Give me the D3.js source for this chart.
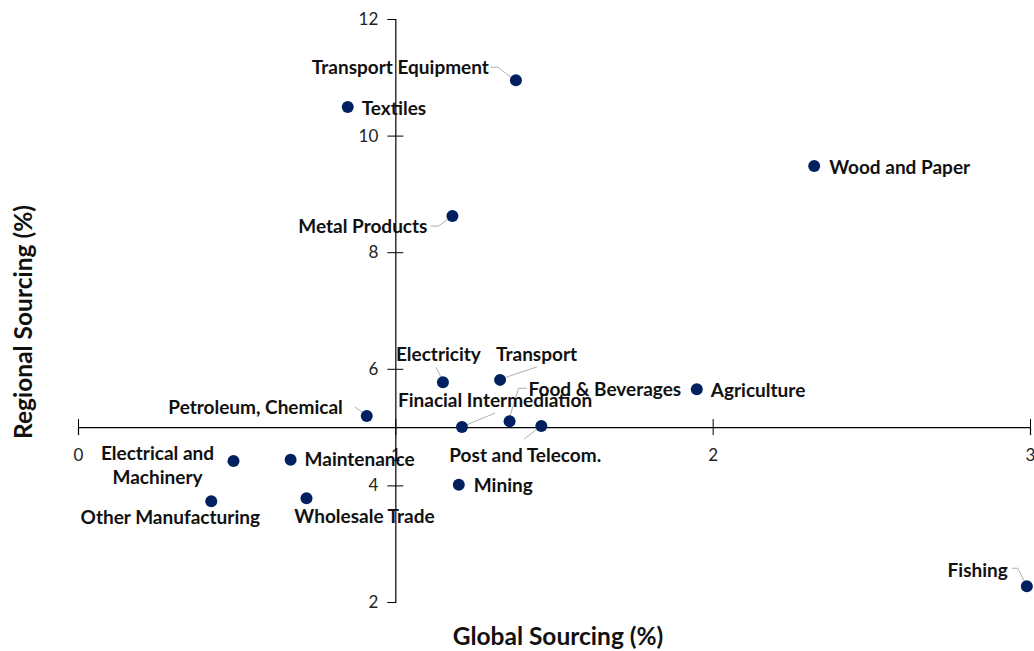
<!DOCTYPE html>
<html>
<head>
<meta charset="utf-8">
<script src="https://cdn.jsdelivr.net/npm/d3@7"></script>
<style>
  body { margin: 0; background: #fff; }
  svg { display: block; font-family: Lato, "Open Sans", sans-serif; }
</style>
</head>
<body>
<script>
var W = 1034, H = 651;

// data
var sectors = ["Transport Equipment", "Textiles", "Wood and Paper", "Metal Products",
  "Electricity", "Transport", "Agriculture", "Petroleum, Chemical",
  "Finacial Intermediation", "Food & Beverages", "Post and Telecom.",
  "Electrical and Machinery", "Maintenance", "Mining", "Other Manufacturing",
  "Wholesale Trade", "Fishing"];
var globalSourcing = [1.38, 0.85, 2.32, 1.18, 1.15, 1.33, 1.95, 0.91, 1.21, 1.36, 1.46,
  0.49, 0.67, 1.20, 0.42, 0.72, 2.99];
var regionalSourcing = [10.95, 10.49, 9.48, 8.62, 5.77, 5.81, 5.65, 5.19, 5.00, 5.10, 5.02,
  4.42, 4.44, 4.01, 3.73, 3.78, 2.27];
var xTicks = [0, 1, 2, 3];
var yTicks = [2, 4, 6, 8, 10, 12];

// label placement relative to each dot: dx, dy, anchor, optional leader line points
var labelLayout = {
  "Transport Equipment": {dx: -27, dy: -13, a: "end", lead: [[-4, -2], [-18, -13], [-25, -13]]},
  "Textiles": {dx: 14, dy: 1, a: "start"},
  "Wood and Paper": {dx: 15, dy: 1, a: "start"},
  "Metal Products": {dx: -25, dy: 10, a: "end", lead: [[-3, 2], [-14, 10], [-22, 10]]},
  "Electricity": {dx: -47, dy: -28, a: "start", lead: [[-2, -5], [-7, -15]]},
  "Transport": {dx: -4, dy: -26, a: "start", lead: [[4, -2], [37, -13]]},
  "Agriculture": {dx: 14, dy: 1, a: "start"},
  "Petroleum, Chemical": {dx: -24, dy: -9, a: "end", lead: [[-3, -3], [-12, -9]]},
  "Finacial Intermediation": {dx: -64, dy: -27, a: "start", lead: [[4, -2], [33, -14]]},
  "Food & Beverages": {dx: 19, dy: -32, a: "start", lead: [[0, -4], [9, -33], [17, -33]]},
  "Post and Telecom.": {dx: -92, dy: 29, a: "start", lead: [[-3, 2], [-17, 13]]},
  "Electrical and Machinery": {dx: -76, dy: -8, a: "middle", lines: ["Electrical and", "Machinery"], lead: [[-3, 1], [-7, 2]]},
  "Maintenance": {dx: 14, dy: 0, a: "start"},
  "Mining": {dx: 15, dy: 1, a: "start"},
  "Other Manufacturing": {dx: -41, dy: 16, a: "middle"},
  "Wholesale Trade": {dx: 58, dy: 18, a: "middle"},
  "Fishing": {dx: -19, dy: -16, a: "end", lead: [[-2, -4], [-9, -18], [-15, -18]]}
};

var svg = d3.select("body").append("svg")
  .attr("width", W)
  .attr("height", H);

var x = d3.scaleLinear().domain([0, 3]).range([78, 1030]);
var y = d3.scaleLinear().domain([2, 12]).range([602, 19]);

var crossX = 1, crossY = 5;

// x axis crossing at y = 5
var xAxis = svg.append("g")
  .attr("transform", "translate(0," + y(crossY) + ")")
  .call(d3.axisBottom(x).tickValues(xTicks).tickSize(8).tickFormat(d3.format("d")));
xAxis.select(".domain").attr("stroke", "#000").attr("stroke-width", 1.2);
xAxis.selectAll(".tick line").attr("y1", -8).attr("stroke", "#000");
xAxis.selectAll(".tick text")
  .attr("y", 28).attr("dy", "0.32em")
  .attr("font-size", 17).attr("fill", "#222")
  .attr("font-family", "Lato, sans-serif");

// y axis crossing at x = 1
var yAxis = svg.append("g")
  .attr("transform", "translate(" + x(crossX) + ",0)")
  .call(d3.axisLeft(y).tickValues(yTicks).tickSize(8).tickFormat(d3.format("d")));
yAxis.select(".domain").attr("stroke", "#000").attr("stroke-width", 1.2);
yAxis.selectAll(".tick line")
  .attr("x1", 8).attr("stroke", "#000")
  .attr("display", function(d) { return (d === 2 || d === 12) ? "none" : null; });
yAxis.selectAll(".tick text")
  .attr("x", -17)
  .attr("font-size", 17).attr("fill", "#222")
  .attr("font-family", "Lato, sans-serif");

var points = sectors.map(function(s, i) {
  return {name: s, gx: globalSourcing[i], ry: regionalSourcing[i]};
});

// leader lines
var line = d3.line();
svg.append("g").selectAll("path")
  .data(points.filter(function(d) { return labelLayout[d.name].lead; }))
  .join("path")
  .attr("d", function(d) {
    var px = x(d.gx), py = y(d.ry);
    return line(labelLayout[d.name].lead.map(function(p) { return [px + p[0], py + p[1]]; }));
  })
  .attr("fill", "none")
  .attr("stroke", "#b0b0b0")
  .attr("stroke-width", 1);

// dots
svg.append("g").selectAll("circle")
  .data(points)
  .join("circle")
  .attr("cx", function(d) { return x(d.gx); })
  .attr("cy", function(d) { return y(d.ry); })
  .attr("r", 6)
  .attr("fill", "#002060");

// labels
var labels = svg.append("g").selectAll("text")
  .data(points)
  .join("text")
  .attr("x", function(d) { return x(d.gx) + labelLayout[d.name].dx; })
  .attr("y", function(d) { return y(d.ry) + labelLayout[d.name].dy; })
  .attr("text-anchor", function(d) { return labelLayout[d.name].a; })
  .attr("dy", "0.35em")
  .attr("font-size", 19)
  .attr("font-weight", "bold")
  .attr("fill", "#111");

labels.each(function(d) {
  var L = labelLayout[d.name];
  var t = d3.select(this);
  if (L.lines) {
    L.lines.forEach(function(s, k) {
      t.append("tspan")
        .attr("x", x(d.gx) + L.dx)
        .attr("dy", k === 0 ? "0.35em" : "1.3em")
        .text(s);
    });
    t.attr("dy", null);
  } else {
    t.text(d.name);
  }
});

// axis titles
svg.append("text")
  .attr("x", 558)
  .attr("y", 645)
  .attr("text-anchor", "middle")
  .attr("font-size", 24.5)
  .attr("font-weight", "bold")
  .attr("fill", "#111")
  .text("Global Sourcing (%)");

svg.append("text")
  .attr("transform", "translate(32,322) rotate(-90)")
  .attr("text-anchor", "middle")
  .attr("font-size", 24.5)
  .attr("font-weight", "bold")
  .attr("fill", "#111")
  .text("Regional Sourcing (%)");
</script>
</body>
</html>
